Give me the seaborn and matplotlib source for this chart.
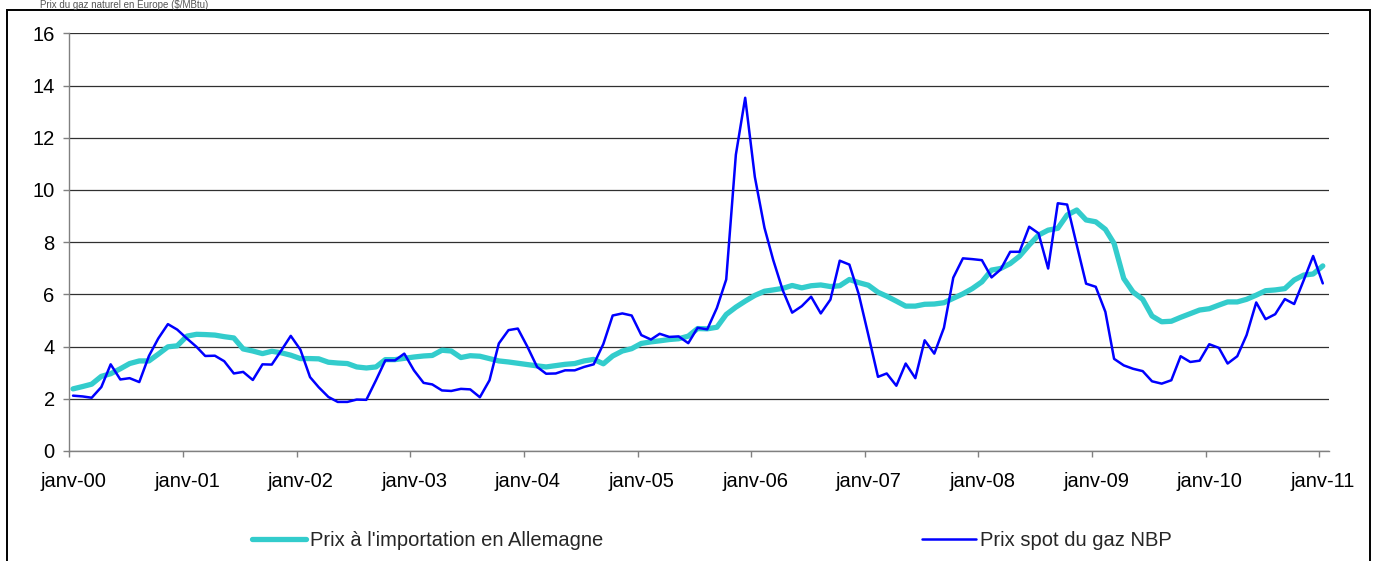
import pandas as pd
import numpy as np
import seaborn as sns
import matplotlib.pyplot as plt
import matplotlib.dates as mdates
from matplotlib.ticker import FuncFormatter
from matplotlib.patches import Rectangle
from matplotlib.transforms import ScaledTranslation

# Prix mensuels ($/MBtu), janv-2000 -> janv-2011
prix_allemagne = [
    2.38, 2.47, 2.56, 2.86, 2.96, 3.15, 3.35, 3.45, 3.45, 3.71, 3.99, 4.03,
    4.40, 4.47, 4.46, 4.44, 4.38, 4.33, 3.91, 3.83, 3.73, 3.82, 3.76, 3.67,
    3.54, 3.54, 3.53, 3.40, 3.37, 3.35, 3.22, 3.18, 3.22, 3.50, 3.50, 3.55,
    3.60, 3.64, 3.66, 3.86, 3.83, 3.58, 3.65, 3.63, 3.54, 3.45, 3.41, 3.36,
    3.31, 3.26, 3.22, 3.27, 3.32, 3.35, 3.45, 3.51, 3.34, 3.64, 3.83, 3.92,
    4.12, 4.18, 4.22, 4.27, 4.30, 4.40, 4.69, 4.68, 4.74, 5.23, 5.51, 5.74,
    5.96, 6.12, 6.17, 6.23, 6.34, 6.25, 6.33, 6.36, 6.30, 6.33, 6.57, 6.45,
    6.35, 6.08, 5.93, 5.74, 5.55, 5.55, 5.62, 5.63, 5.68, 5.85, 6.02, 6.22,
    6.48, 6.93, 6.99, 7.18, 7.46, 7.89, 8.27, 8.46, 8.53, 9.04, 9.23, 8.85,
    8.78, 8.49, 7.95, 6.61, 6.09, 5.81, 5.17, 4.95, 4.97, 5.12, 5.26, 5.40,
    5.45, 5.59, 5.71, 5.71, 5.81, 5.97, 6.14, 6.17, 6.22, 6.55, 6.74, 6.78,
    7.09,
]
prix_nbp = [
    2.12, 2.09, 2.04, 2.45, 3.32, 2.74, 2.79, 2.64, 3.64, 4.31, 4.86, 4.65,
    4.31, 3.99, 3.64, 3.65, 3.44, 2.97, 3.03, 2.72, 3.32, 3.31, 3.86, 4.41,
    3.88, 2.83, 2.44, 2.07, 1.88, 1.88, 1.97, 1.96, 2.71, 3.47, 3.47, 3.73,
    3.09, 2.61, 2.55, 2.32, 2.30, 2.38, 2.36, 2.06, 2.71, 4.12, 4.63, 4.69,
    3.99, 3.22, 2.96, 2.97, 3.09, 3.09, 3.22, 3.32, 4.10, 5.19, 5.27, 5.19,
    4.44, 4.27, 4.49, 4.37, 4.39, 4.13, 4.72, 4.66, 5.48, 6.57, 11.35, 13.53,
    10.50, 8.55, 7.32, 6.15, 5.30, 5.55, 5.91, 5.27, 5.80, 7.29, 7.14, 6.01,
    4.44, 2.84, 2.97, 2.50, 3.35, 2.79, 4.24, 3.73, 4.72, 6.64, 7.38, 7.35,
    7.31, 6.65, 6.95, 7.63, 7.63, 8.59, 8.34, 6.99, 9.49, 9.44, 7.89, 6.41,
    6.29, 5.33, 3.53, 3.28, 3.15, 3.06, 2.67, 2.58, 2.71, 3.63, 3.41, 3.46,
    4.09, 3.95, 3.35, 3.63, 4.44, 5.69, 5.05, 5.24, 5.82, 5.63, 6.55, 7.47,
    6.42,
]
mois = pd.date_range("2000-01-01", periods=len(prix_nbp), freq="MS") + pd.Timedelta(days=12)
annees_ticks = pd.date_range("2000-01-01", "2011-01-01", freq="YS")
y_ticks = list(range(0, 17, 2))

df = pd.DataFrame({"mois": mois, "Allemagne": prix_allemagne, "NBP": prix_nbp})

sns.set_theme(style="white")
plt.rcParams["font.family"] = ["Liberation Sans", "DejaVu Sans"]

fig = plt.figure(figsize=(13.75, 5.61), dpi=100)
ax = fig.add_axes([69.3 / 1375, 1 - 451 / 561, (1328.7 - 69.3) / 1375, (451 - 33.3) / 561])

sns.lineplot(data=df, x="mois", y="Allemagne", ax=ax, color="#33CCCC", linewidth=3.8,
             label="Prix à l'importation en Allemagne")
sns.lineplot(data=df, x="mois", y="NBP", ax=ax, color="#0000FF", linewidth=1.8,
             label="Prix spot du gaz NBP")

ax.set_xlim(pd.Timestamp("2000-01-01"), pd.Timestamp("2011-02-01"))
ax.set_ylim(0, 16)
ax.set_yticks(y_ticks)
ax.set_xticks(annees_ticks)
ax.xaxis.set_major_formatter(FuncFormatter(lambda v, p: "janv-%02d" % (mdates.num2date(v).year % 100)))
ax.set_xlabel("")
ax.set_ylabel("")

ax.grid(axis="y", color="#303030", linewidth=0.9)
ax.set_axisbelow(True)
for s in ["top", "right"]:
    ax.spines[s].set_visible(False)
for s in ["left", "bottom"]:
    ax.spines[s].set_color("#808080")
    ax.spines[s].set_linewidth(1.0)
ax.tick_params(axis="both", which="major", direction="out", length=4.5, width=1.0,
               color="#808080", labelsize=14.5, labelcolor="black", left=True, bottom=True)
ax.tick_params(axis="x", pad=10.5)
ax.tick_params(axis="y", pad=6)
shift = ScaledTranslation(4 / 100, 0, fig.dpi_scale_trans)
for lab in ax.get_xticklabels():
    lab.set_transform(lab.get_transform() + shift)

ax.get_legend().remove()
h, l = ax.get_legend_handles_labels()
fig.legend(h, l, loc="center", bbox_to_anchor=(712 / 1375, 1 - 541 / 561), ncol=2,
           frameon=False, fontsize=14.5, handlelength=2.7, handletextpad=0.2,
           columnspacing=15.8)

# cadre extérieur et titre (coupé en haut dans l'original)
fig.patches.append(Rectangle((7 / 1375, -0.05), (1370 - 7) / 1375, 1 - 10 / 561 + 0.05,
                             transform=fig.transFigure, fill=False, edgecolor="black",
                             linewidth=1.4))
fig.text(40 / 1375, 1 - 0.5 / 561, "Prix du gaz naturel en Europe ($/MBtu)", fontsize=7,
         ha="left", va="top", color="#555555")

fig.savefig("out.png", dpi=100)
